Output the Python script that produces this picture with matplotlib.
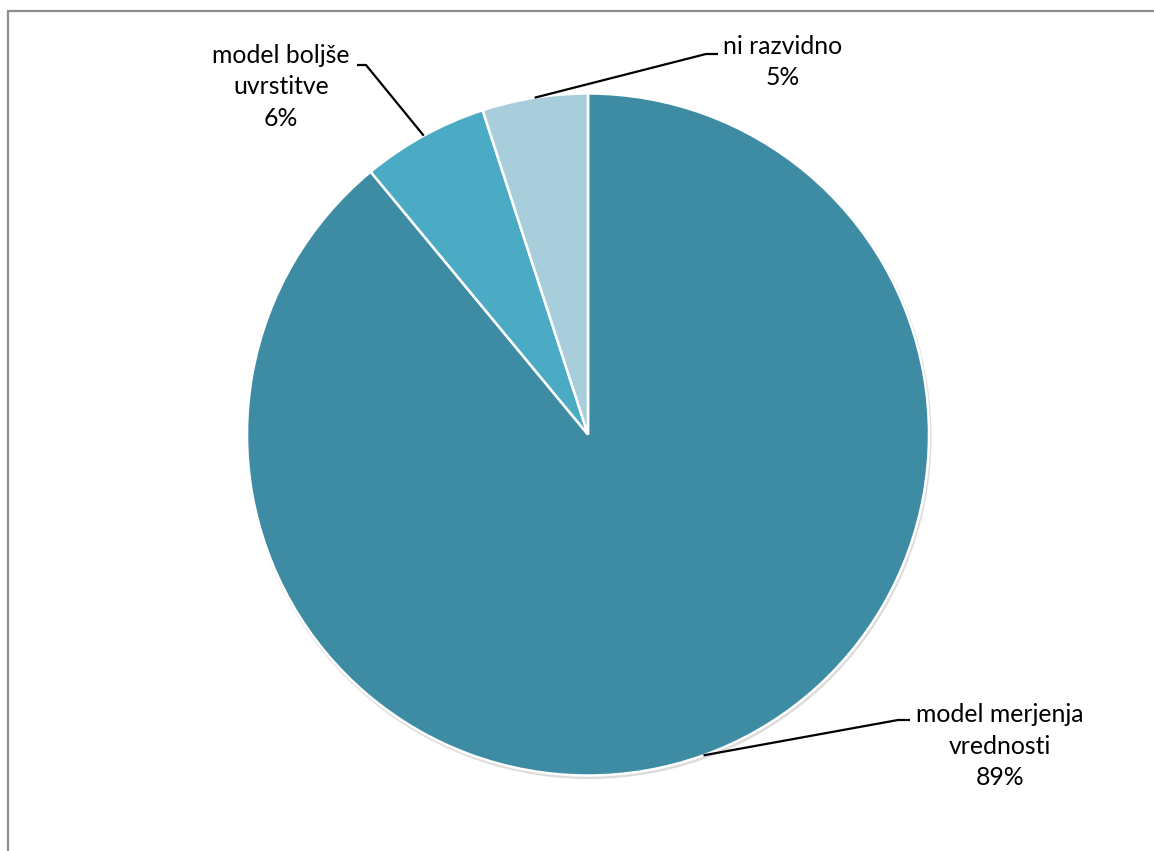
import numpy as np
import matplotlib.pyplot as plt
from matplotlib.patches import Circle, Rectangle

labels = ["model merjenja\nvrednosti", "model boljše\nuvrstitve", "ni razvidno"]
shares = [89, 6, 5]
colors = ["#3d8ca4", "#4babc5", "#a9cedb"]

# where each label block sits and where its leader line bends
text_pos = [(1000, 105), (281, 764), (783, 789)]
elbows = [((898, 131), (910, 131)), ((366, 786), (357, 786)), ((706, 797), (718, 797))]

plt.rcParams['font.family'] = ['Lato', 'DejaVu Sans']

fig = plt.figure(figsize=(11.54, 8.51), dpi=100)
ax = fig.add_axes([0, 0, 1, 1])

cx, cy, r = 588, 416.5, 341

# soft shadow under the pie
ax.add_patch(Circle((cx + 1, cy - 2), r + 1.5, facecolor="#dcdcdc", edgecolor="none", zorder=0))

wedges, _ = ax.pie(shares, colors=colors, startangle=90, counterclock=False,
                   center=(cx, cy), radius=r, frame=True,
                   wedgeprops=dict(edgecolor="white", linewidth=1.8))
for w in wedges:
    w.set_zorder(1)

ax.set_xlim(0, 1154)
ax.set_ylim(0, 851)
ax.set_aspect('equal')
ax.axis('off')

for i, w in enumerate(wedges):
    mid = np.deg2rad((w.theta1 + w.theta2) / 2)
    sx = cx + r * np.cos(mid)
    sy = cy + r * np.sin(mid)
    (ex, ey), (hx, hy) = elbows[i]
    ax.plot([sx, ex, hx], [sy, ey, hy], color="black", lw=1.6, zorder=3,
            solid_capstyle="butt")
    tx, ty = text_pos[i]
    ax.text(tx, ty, f"{labels[i]}\n{shares[i]}%", ha="center", va="center",
            multialignment="center", fontsize=17.8, linespacing=1.45,
            color="black", zorder=4)

# chart frame
fig.patches.append(Rectangle((8 / 1154, -0.1), 1.2, (851 - 11) / 851 + 0.1,
                             transform=fig.transFigure, fill=False,
                             edgecolor="#8c8c8c", linewidth=1.6))

fig.savefig("out.png", dpi=100, facecolor="white")
